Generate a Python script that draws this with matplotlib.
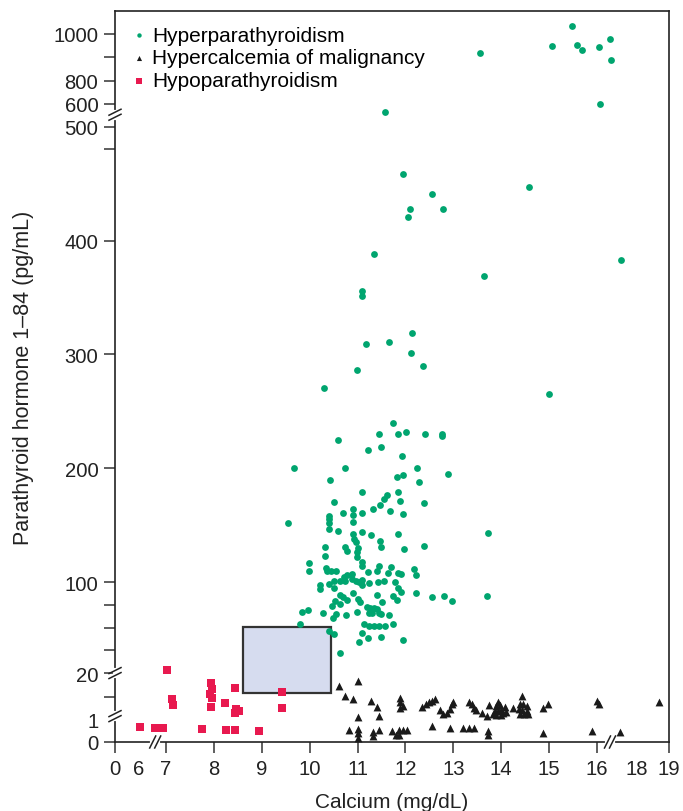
import numpy as np
import matplotlib.pyplot as plt
from matplotlib.lines import Line2D
from matplotlib.patches import Rectangle
from matplotlib.transforms import IdentityTransform

plt.rcParams['font.family'] = ['Liberation Sans', 'DejaVu Sans']

# broken axes: data value -> relative position along the axis
x_break_vals = [0, 6, 7, 16, 18, 19]
x_break_pos = [0, 24, 51, 482, 522, 554]
y_break_vals = [0, 1, 20, 500, 600, 800, 1000, 1100]
y_break_pos = [0, 23, 69, 616, 639, 662, 709, 733]

# Hyperparathyroidism (calcium mg/dL, PTH pg/mL)
hyper_ca = [15.47, 15.07, 15.59, 15.69, 16.12, 16.63, 16.70, 16.15, 13.56, 11.57,
            11.95, 14.58, 12.55, 12.09, 12.78, 12.05, 11.34, 17.20, 13.64, 11.09,
            11.09, 12.14, 11.18, 11.66, 12.12, 12.36, 10.99, 10.29, 15.00, 13.72,
            13.70, 11.75, 11.45, 11.84, 12.01, 12.40, 12.77, 12.77, 10.60, 11.22,
            11.49, 11.92, 9.68, 10.73, 12.24, 10.43, 11.82, 11.95, 12.28, 12.88,
            11.09, 11.85, 11.61, 11.56, 11.47, 11.32, 11.88, 10.50, 12.38, 10.90,
            10.90, 10.70, 11.09, 11.68, 11.94, 10.41, 10.41, 10.41, 10.41, 9.55,
            10.90, 10.60, 11.10, 10.90, 10.93, 11.29, 11.85, 10.97, 11.01, 11.47,
            11.49, 12.38, 10.74, 10.32, 10.79, 10.99, 10.31, 11.98, 10.99, 11.09,
            11.09, 9.98, 9.98, 10.35, 10.37, 10.45, 10.56, 11.22, 11.40, 11.45,
            11.70, 11.64, 11.85, 11.91, 12.18, 12.23, 10.71, 10.79, 10.88, 10.88,
            10.96, 11.02, 10.74, 10.63, 10.51, 10.22, 10.22, 10.41, 10.51, 11.10,
            11.10, 11.24, 11.43, 11.55, 11.79, 11.85, 11.91, 11.75, 12.22, 12.55,
            12.80, 12.98, 11.40, 10.90, 10.63, 10.69, 10.79, 10.52, 10.63, 10.47,
            11.00, 11.05, 11.52, 11.83, 11.20, 11.25, 11.29, 11.34, 11.40, 11.45,
            11.31, 11.23, 11.49, 11.66, 10.99, 10.76, 10.55, 10.49, 10.27, 9.97,
            9.85, 9.80, 10.40, 10.51, 10.63, 11.13, 11.24, 11.34, 11.45, 11.58,
            11.75, 11.10, 11.21, 11.04, 11.49, 11.95]
hyper_pth = [1034, 946, 954, 931, 943, 976, 889, 598, 920, 565,
             458, 447, 441, 428, 428, 421, 388, 383, 369, 356,
             351, 319, 309, 311, 301, 290, 286, 270, 265, 143,
             88, 240, 230, 230, 232, 230, 230, 228, 225, 216,
             219, 211, 200, 200, 200, 190, 192, 194, 188, 195,
             179, 179, 176, 173, 168, 164, 171, 170, 169, 164,
             159, 161, 161, 162, 160, 158, 155, 152, 147, 152,
             153, 145, 144, 142, 138, 141, 142, 135, 130, 136,
             131, 132, 131, 131, 127, 126, 123, 129, 122, 118,
             114, 117, 110, 112, 110, 110, 110, 109, 110, 114,
             113, 108, 108, 107, 111, 106, 104, 106, 107, 103,
             101, 100, 101, 101, 101, 97, 94, 98, 95, 102,
             97, 99, 100, 101, 100, 95, 91, 88, 90, 87,
             88, 83, 89, 90, 89, 87, 84, 83, 81, 79,
             85, 82, 82, 84, 78, 77, 75, 77, 76, 73,
             73, 73, 72, 71, 74, 71, 72, 68, 73, 75,
             74, 63, 57, 54, 38, 63, 61, 61, 61, 61,
             63, 55, 51, 47, 52, 49]

# Hypercalcemia of malignancy
malig_ca = [10.61, 11.00, 10.73, 10.90, 11.29, 11.40, 11.45, 11.01, 10.83, 11.01,
            11.01, 11.01, 11.33, 11.33, 11.45, 11.72, 11.80, 11.87, 11.87, 11.94,
            12.03, 11.89, 11.89, 11.88, 11.95, 12.35, 12.43, 12.50, 12.55, 12.62,
            12.56, 12.73, 12.79, 12.87, 12.92, 12.97, 13.00, 12.92, 13.21, 13.32,
            13.44, 13.33, 13.39, 13.43, 13.47, 13.59, 13.70, 13.75, 13.72, 13.72,
            13.94, 13.89, 13.97, 13.87, 13.94, 14.00, 14.08, 14.04, 13.90, 13.99,
            14.10, 13.83, 14.24, 14.43, 14.39, 14.46, 14.53, 14.37, 14.44, 14.53,
            14.39, 14.47, 14.56, 14.88, 14.97, 14.88, 15.99, 16.08, 15.89, 17.17,
            18.70]
malig_pth = [14.5, 16.7, 10.5, 9.4, 8.4, 5.8, 2.1, 2.0, 0.52, 0.57,
             0.38, 0.19, 0.42, 0.25, 0.53, 0.49, 0.32, 0.32, 0.51, 0.53,
             0.52, 9.8, 7.9, 5.7, 6.5, 6.0, 7.2, 7.9, 8.4, 9.3,
             0.68, 4.8, 3.1, 3.5, 5.1, 7.1, 8.1, 0.6, 0.62, 0.6,
             0.6, 8.1, 7.1, 5.7, 4.6, 3.5, 2.4, 6.9, 0.48, 0.3,
             8.1, 6.5, 6.9, 4.4, 4.4, 4.8, 5.8, 3.5, 2.7, 2.7,
             4.1, 3.2, 5.4, 10.6, 7.2, 7.2, 6.5, 5.1, 4.7, 4.4,
             3.1, 3.1, 3.1, 5.4, 7.1, 0.39, 8.4, 7.3, 0.48, 0.43,
             7.9]

# Hypoparathyroidism
hypo_ca = [7.03, 6.05, 6.60, 6.90, 7.13, 7.15, 7.76, 7.94, 7.97, 7.92,
           7.97, 7.94, 8.24, 8.45, 8.47, 8.53, 8.45, 8.26, 8.45, 8.95,
           9.42, 9.43]
hypo_pth = [22.4, 0.64, 0.6, 0.6, 9.3, 6.8, 0.55, 15.7, 13.4, 11.3,
            9.6, 5.8, 7.6, 14.0, 5.0, 4.3, 3.5, 0.51, 0.51, 0.47,
            12.2, 5.5]

# normal range box
normal_ca = (8.6, 10.45)
normal_pth = (11.6, 60.6)

x_ticks = [0, 6, 7, 8, 9, 10, 11, 12, 13, 14, 15, 16, 18, 19]
y_ticks = [0, 1, 20, 100, 200, 300, 400, 500, 600, 800, 1000]
y_minor = [10, 40, 60, 80, 480, 900]


def fwd(v, vals, pos):
    return np.interp(v, vals, pos)


fig = plt.figure(figsize=(6.83, 8.12), dpi=100)
ax = fig.add_axes([115 / 683, 1 - 743 / 812, 554 / 683, 731 / 812])
ax.set_xscale('function', functions=(lambda v: fwd(v, x_break_vals, x_break_pos),
                                     lambda p: fwd(p, x_break_pos, x_break_vals)))
ax.set_yscale('function', functions=(lambda v: fwd(v, y_break_vals, y_break_pos),
                                     lambda p: fwd(p, y_break_pos, y_break_vals)))
ax.set_xlim(0, 19)
ax.set_ylim(0, 1095)

ax.add_patch(Rectangle((normal_ca[0], normal_pth[0]), normal_ca[1] - normal_ca[0],
                       normal_pth[1] - normal_pth[0], facecolor='#d6dcef',
                       edgecolor='#333333', linewidth=1.6, zorder=1))

ax.scatter(hyper_ca, hyper_pth, s=24, marker='o', color='#00a56f', linewidths=0,
           label='Hyperparathyroidism', zorder=3)
ax.scatter(malig_ca, malig_pth, s=32, marker='^', color='#1a1a1a', linewidths=0,
           label='Hypercalcemia of malignancy', zorder=3)
ax.scatter(hypo_ca, hypo_pth, s=40, marker='s', color='#e8194f', linewidths=0,
           label='Hypoparathyroidism', zorder=3)

ax.set_xticks(x_ticks)
ax.set_xticklabels([str(t) for t in x_ticks])
ax.set_yticks(y_ticks)
ax.set_yticklabels([str(t) for t in y_ticks])
ax.set_yticks(y_minor, minor=True)
ax.xaxis.set_minor_locator(plt.NullLocator())
ax.tick_params(axis='both', which='both', direction='out', length=8, width=1.1,
               colors='#333333', labelsize=14.6, labelcolor='#222222', pad=4)
for t in ax.xaxis.get_major_ticks():
    if t.get_loc() in (6, 18):
        t.tick1line.set_visible(False)
for t in ax.yaxis.get_major_ticks():
    if t.get_loc() == 1:
        t.tick1line.set_visible(False)
for s in ax.spines.values():
    s.set_color('#222222')
    s.set_linewidth(1.2)

ax.set_xlabel('Calcium (mg/dL)', fontsize=15, color='#222222', labelpad=10)
ax.set_ylabel('Parathyroid hormone 1\u201384 (pg/mL)', fontsize=15.5, color='#222222',
              labelpad=14)

ax.legend(loc='upper left', frameon=False, fontsize=15, handletextpad=0.2,
          handlelength=0.9, labelspacing=0.18, borderaxespad=0.3, markerscale=0.65,
          bbox_to_anchor=(0.0, 1.0))

# break marks on the axes
fig.canvas.draw()
ident = IdentityTransform()


def y_break(yv):
    px, py = ax.transData.transform((0, yv))
    fig.add_artist(Line2D([px, px], [py - 3, py + 3], color='white', lw=3,
                          transform=ident, zorder=5))
    for d in (-2.5, 2.5):
        fig.add_artist(Line2D([px - 6, px + 6], [py + d - 3, py + d + 3],
                              color='#222222', lw=1.1, transform=ident, zorder=6))


def x_break(xv):
    px, py = ax.transData.transform((xv, 0))
    fig.add_artist(Line2D([px - 3, px + 3], [py, py], color='white', lw=3,
                          transform=ident, zorder=5))
    for d in (-2.5, 2.5):
        fig.add_artist(Line2D([px + d - 3, px + d + 3], [py - 6, py + 6],
                              color='#222222', lw=1.1, transform=ident, zorder=6))


for yv in (552, 20, 2.2):
    y_break(yv)
for xv in (6.6, 16.65):
    x_break(xv)

fig.savefig('out.png', dpi=100)
